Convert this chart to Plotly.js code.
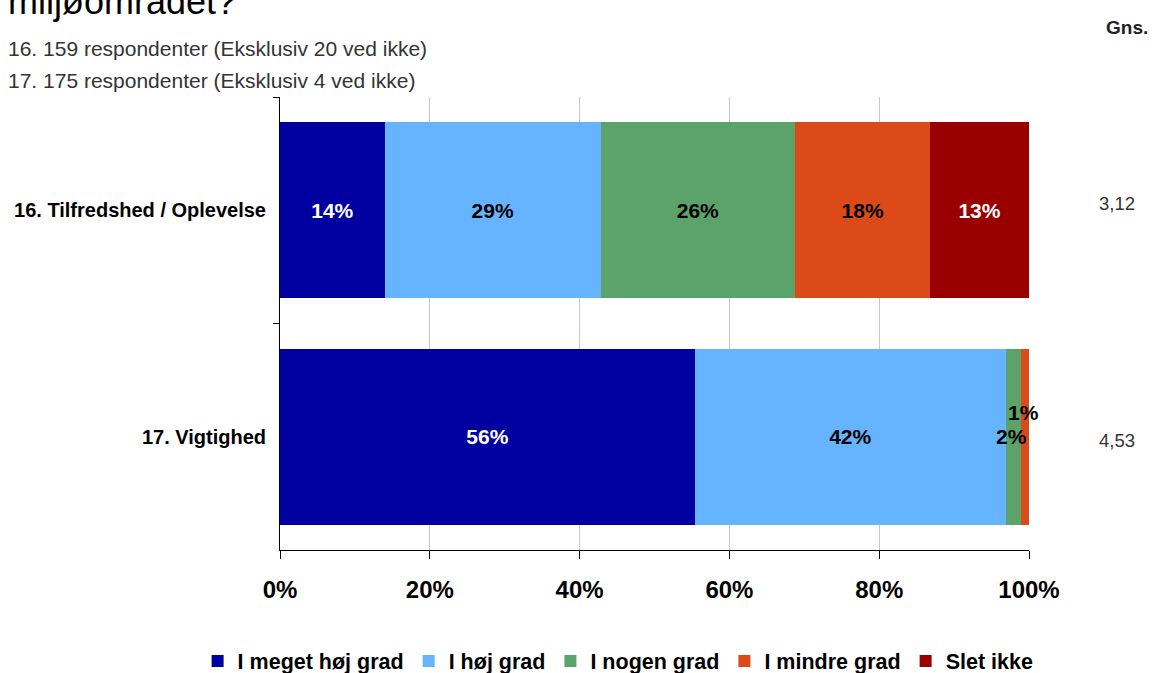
<!DOCTYPE html>
<html><head><meta charset="utf-8">
<script src="https://cdn.plot.ly/plotly-3.0.1.min.js"></script>
<style>html,body{margin:0;padding:0;background:#fff}#chart{width:1156px;height:673px}</style>
</head><body><div id="chart"></div>
<script>
// ---- data ----
const categories = ['16. Tilfredshed / Oplevelse', '17. Vigtighed'];
const seriesNames = ['I meget høj grad', 'I høj grad', 'I nogen grad', 'I mindre grad', 'Slet ikke'];
const megetHoj = [14.0, 55.4];
const hoj = [28.8, 41.5];
const nogen = [26.0, 2.0];
const mindre = [18.0, 1.1];
const slet = [13.2, 0];
const megetHojLabels = ['14%', '56%'];
const hojLabels = ['29%', '42%'];
const nogenLabels = ['26%', '2%'];
const mindreLabels = ['18%', '1%'];
const sletLabels = ['13%', ''];
const averages = ['3,12', '4,53'];
const xTickVals = [0, 20, 40, 60, 80, 100];
const xTickText = ['0%', '20%', '40%', '60%', '80%', '100%'];
const titleText = 'miljøområdet?';
const subtitle1 = '16. 159 respondenter (Eksklusiv 20 ved ikke)';
const subtitle2 = '17. 175 respondenter (Eksklusiv 4 ved ikke)';
const avgHeader = 'Gns.';

// ---- styling ----
const FONT = '"Liberation Sans", Arial, sans-serif';
const colors = ['#0000A0', '#66B3FF', '#5BA36A', '#DC4A1A', '#9A0000'];
const textColors = ['#FFFFFF', '#000000', '#000000', '#000000', '#FFFFFF'];
const seriesValues = [megetHoj, hoj, nogen, mindre, slet];
const seriesLabels = [megetHojLabels, hojLabels, nogenLabels, mindreLabels, sletLabels];

// labels that don't fit inside (row 17, small segments) become annotations
const smallLabelIdx = {2: 1, 3: 1};

const traces = seriesNames.map((name, i) => {
  const txt = seriesLabels[i].map((t, r) => (smallLabelIdx[i] === r ? '' : t));
  return {
    type: 'bar', orientation: 'h', name: name,
    y: categories, x: seriesValues[i],
    text: txt, textposition: 'inside', insidetextanchor: 'middle',
    textangle: 0, constraintext: 'none',
    textfont: {family: FONT, size: 21, color: textColors[i], weight: 'bold'},
    marker: {color: colors[i], line: {width: 0}},
    hoverinfo: 'x+name'
  };
});

// cumulative helper for positioning small labels on the data scale
function segCenter(seriesIdx, row) {
  let s = 0;
  for (let k = 0; k < seriesIdx; k++) s += seriesValues[k][row];
  return s + seriesValues[seriesIdx][row] / 2;
}

const annotations = [
  {text: titleText, xref: 'paper', yref: 'paper', x: -0.366, y: 1, xanchor: 'left', yanchor: 'middle',
   yshift: 96, showarrow: false, font: {family: FONT, size: 36, color: '#000'}},
  {text: subtitle1, xref: 'paper', yref: 'paper', x: -0.366, y: 1, xanchor: 'left', yanchor: 'middle',
   yshift: 49, showarrow: false, font: {family: FONT, size: 21, color: '#333'}},
  {text: subtitle2, xref: 'paper', yref: 'paper', x: -0.366, y: 1, xanchor: 'left', yanchor: 'middle',
   yshift: 17, showarrow: false, font: {family: FONT, size: 21, color: '#333'}},
  {text: '<b>' + avgHeader + '</b>', xref: 'paper', yref: 'paper', x: 1.131, y: 1, xanchor: 'center', yanchor: 'middle',
   yshift: 70, showarrow: false, font: {family: FONT, size: 19, color: '#222'}},
  {text: averages[0], xref: 'paper', yref: 'y', x: 1.117, y: categories[0], xanchor: 'center', yanchor: 'middle',
   yshift: 7, showarrow: false, font: {family: FONT, size: 18.5, color: '#333'}},
  {text: averages[1], xref: 'paper', yref: 'y', x: 1.117, y: categories[1], xanchor: 'center', yanchor: 'middle',
   yshift: -4, showarrow: false, font: {family: FONT, size: 18.5, color: '#333'}},
  {text: '<b>' + nogenLabels[1] + '</b>', xref: 'x', yref: 'y', x: segCenter(2, 1), y: categories[1],
   xanchor: 'center', yanchor: 'middle', xshift: -2, yshift: 0, showarrow: false,
   font: {family: FONT, size: 21, color: '#000'}},
  {text: '<b>' + mindreLabels[1] + '</b>', xref: 'x', yref: 'y', x: segCenter(3, 1), y: categories[1],
   xanchor: 'center', yanchor: 'middle', xshift: -1, yshift: 24, showarrow: false,
   font: {family: FONT, size: 21, color: '#000'}}
];

const layout = {
  width: 1156, height: 673,
  margin: {l: 280, r: 127, t: 97, b: 123, pad: 0, autoexpand: false},
  paper_bgcolor: '#fff', plot_bgcolor: '#fff',
  barmode: 'stack', bargap: 0.225,
  font: {family: FONT, color: '#000'},
  showlegend: true,
  legend: {orientation: 'h', x: -0.11, xanchor: 'left', y: -0.245, yanchor: 'middle',
           font: {family: FONT, size: 21.5, color: '#000', weight: 'bold'}, traceorder: 'normal'},
  xaxis: {range: [0, 100], tickmode: 'array', tickvals: xTickVals, ticktext: xTickText,
          showgrid: true, gridcolor: '#C8C8C8', gridwidth: 1, zeroline: false,
          showline: true, linecolor: '#000', linewidth: 1,
          ticks: 'outside', ticklen: 8, tickcolor: '#000', ticklabelstandoff: 10,
          tickfont: {family: FONT, size: 24, color: '#000', weight: 'bold'}, fixedrange: true},
  yaxis: {type: 'category', autorange: 'reversed', tickson: 'boundaries',
          showline: true, linecolor: '#000', linewidth: 1, showgrid: false, zeroline: false,
          ticks: 'outside', ticklen: 6, tickcolor: '#000', ticklabelstandoff: 9,
          tickfont: {family: FONT, size: 20, color: '#000', weight: 'bold'}, fixedrange: true},
  annotations: annotations
};

Plotly.newPlot('chart', traces, layout, {displayModeBar: false, staticPlot: true});
</script>
</body></html>
